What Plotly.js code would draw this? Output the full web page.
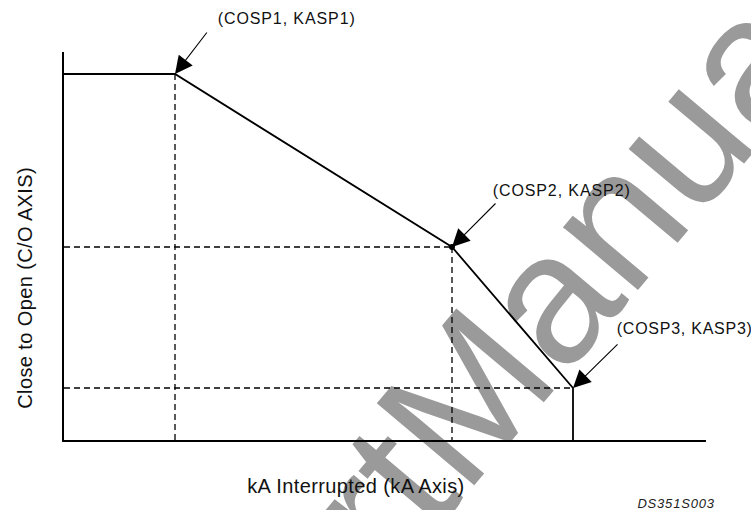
<!DOCTYPE html>
<html>
<head>
<meta charset="utf-8">
<script src="https://cdn.plot.ly/plotly-3.0.1.min.js"></script>
<style>
  html, body { margin: 0; padding: 0; background: #fff; }
  #chart { width: 751px; height: 510px; }
  .annotation[data-index="0"] text,
  .annotation[data-index="1"] text { letter-spacing: 0.9px; }
  .annotation[data-index="2"] text { letter-spacing: 0.75px; }
  .annotation[data-index="3"] text,
  .annotation[data-index="4"] text { letter-spacing: 0.4px; }
  .annotation[data-index="5"] text { letter-spacing: 0.8px; }
</style>
</head>
<body>
<div id="chart"></div>
<script>
// Trip curve (relative units: kA interrupted vs close-to-open)
const curveKA = [0, 111, 388, 509, 509];
const curveCO = [366, 366, 193, 52, 0];
// Break points (COSPn, KASPn)
const pointKA = [111, 388, 509];
const pointCO = [366, 193, 52];
const pointLabels = ["(COSP1, KASP1)", "(COSP2, KASP2)", "(COSP3, KASP3)"];
const xTitle = "kA Interrupted (kA Axis)";
const yTitle = "Close to Open (C/O AXIS)";
const figureId = "DS351S003";
const watermark = "ElectricalPartManuals.com";

const FONT = "Liberation Sans, Arial, Helvetica, sans-serif";
const M = { l: 64, r: 45, t: 52, b: 70 };
const W = 751, H = 510;
const PW = W - M.l - M.r, PH = H - M.t - M.b;
// convert figure pixels to paper (plot-area) fractions
const px = v => (v - M.l) / PW;
const py = v => (H - M.b - v) / PH;

// dashed projection lines
const vx = [], vy = [], hx = [], hy = [];
[0, 1].forEach(i => { vx.push(pointKA[i], pointKA[i], null); vy.push(pointCO[i], 0, null); });
[1, 2].forEach(i => { hx.push(0, pointKA[i], null); hy.push(pointCO[i], pointCO[i], null); });

const traces = [
  { x: vx, y: vy, mode: 'lines', line: { color: '#000', width: 1.3, dash: '6px,4px' }, hoverinfo: 'skip', showlegend: false },
  { x: hx, y: hy, mode: 'lines', line: { color: '#000', width: 1.3, dash: '6px,4px' }, hoverinfo: 'skip', showlegend: false },
  { x: curveKA, y: curveCO, mode: 'lines', line: { color: '#000', width: 1.8 }, showlegend: false },
  { x: [pointKA[1]], y: [pointCO[1]], mode: 'markers', marker: { color: '#000', size: 6 }, showlegend: false }
];

const labelPos = [[286, 18], [561, 191], [684, 328]];
const arrowTail = [[144, 409], [433, 238], [555, 97]];

const annotations = [];
pointLabels.forEach((t, i) => {
  annotations.push({ text: t, x: px(labelPos[i][0]), y: py(labelPos[i][1]), xref: 'paper', yref: 'paper',
    showarrow: false, font: { family: FONT, size: 16, color: '#111' }, xanchor: 'center', yanchor: 'middle' });
});
annotations.push({ text: xTitle, x: px(356), y: py(486), xref: 'paper', yref: 'paper', showarrow: false,
  font: { family: FONT, size: 20, color: '#111' }, xanchor: 'center', yanchor: 'middle' });
annotations.push({ text: yTitle, x: px(25), y: py(288), xref: 'paper', yref: 'paper', showarrow: false,
  textangle: -90, font: { family: FONT, size: 20, color: '#111' }, xanchor: 'center', yanchor: 'middle' });
annotations.push({ text: '<i>' + figureId + '</i>', x: px(676), y: py(503), xref: 'paper', yref: 'paper', showarrow: false,
  font: { family: FONT, size: 13, color: '#222' }, xanchor: 'center', yanchor: 'middle' });
pointKA.forEach((k, i) => {
  annotations.push({ text: '', x: k, y: pointCO[i], xref: 'x', yref: 'y',
    ax: arrowTail[i][0], ay: arrowTail[i][1], axref: 'x', ayref: 'y',
    showarrow: true, arrowhead: 2, arrowsize: 3.2, arrowwidth: 1.1, arrowcolor: '#000', standoff: 0 });
});

const wmC = [405, 440];
const layout = {
  width: W, height: H,
  margin: M,
  paper_bgcolor: '#fff', plot_bgcolor: 'rgba(0,0,0,0)',
  showlegend: false,
  xaxis: { range: [0, 642], showline: true, linecolor: '#000', linewidth: 2, showgrid: false, zeroline: false,
           showticklabels: false, ticks: '', fixedrange: true },
  yaxis: { range: [0, 388], showline: true, linecolor: '#000', linewidth: 2, showgrid: false, zeroline: false,
           showticklabels: false, ticks: '', fixedrange: true },
  annotations: annotations,
  shapes: [{
    type: 'rect', xref: 'paper', yref: 'paper', layer: 'below',
    x0: px(wmC[0]) - 0.001, x1: px(wmC[0]) + 0.001, y0: py(wmC[1]) - 0.001, y1: py(wmC[1]) + 0.001,
    line: { width: 0 }, fillcolor: 'rgba(0,0,0,0)',
    label: { text: watermark, textangle: -50, textposition: 'middle center',
             font: { family: FONT, size: 185, color: '#9a9a9a' } }
  }]
};

Plotly.newPlot('chart', traces, layout, { displayModeBar: false, staticPlot: true });
</script>
</body>
</html>
